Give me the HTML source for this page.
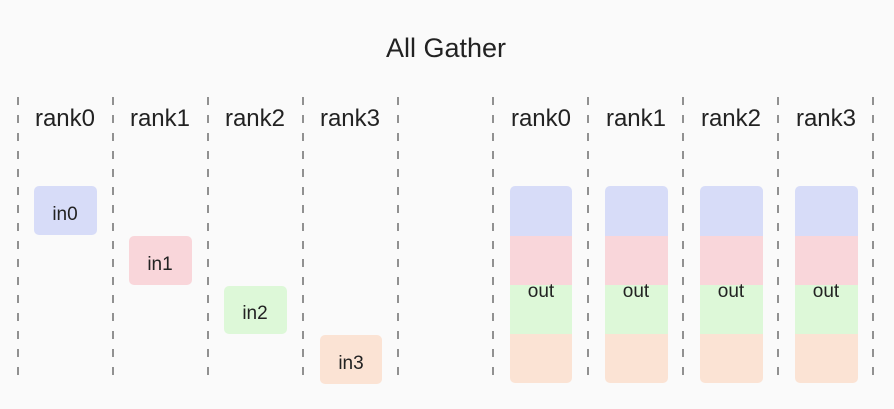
<!DOCTYPE html>
<html><head><meta charset="utf-8"><style>
html,body{margin:0;padding:0;background:#fafafa;}
svg{display:block;}
text{font-family:"Liberation Sans",sans-serif;fill:#222;}
</style></head><body>
<svg width="894" height="409" viewBox="0 0 894 409" xmlns="http://www.w3.org/2000/svg">
<rect width="894" height="409" fill="#fafafa"/>
<text x="446" y="57" font-size="27" text-anchor="middle">All Gather</text>
<g stroke="#777" stroke-width="1.6" stroke-dasharray="8 10">
<line x1="18" y1="97" x2="18" y2="383"/>
<line x1="113" y1="97" x2="113" y2="383"/>
<line x1="208" y1="97" x2="208" y2="383"/>
<line x1="303" y1="97" x2="303" y2="383"/>
<line x1="398" y1="97" x2="398" y2="383"/>
<line x1="493" y1="97" x2="493" y2="383"/>
<line x1="588" y1="97" x2="588" y2="383"/>
<line x1="683" y1="97" x2="683" y2="383"/>
<line x1="778" y1="97" x2="778" y2="383"/>
<line x1="873" y1="97" x2="873" y2="383"/>
</g>
<g font-size="24" text-anchor="middle">
<text x="65" y="126">rank0</text>
<text x="160" y="126">rank1</text>
<text x="255" y="126">rank2</text>
<text x="350" y="126">rank3</text>
<text x="541" y="126">rank0</text>
<text x="636" y="126">rank1</text>
<text x="731" y="126">rank2</text>
<text x="826" y="126">rank3</text>
</g>
<rect x="34" y="186" width="63" height="49" rx="5" fill="#d7dcf8"/>
<rect x="129" y="236" width="63" height="49" rx="5" fill="#f9d6da"/>
<rect x="224" y="286" width="63" height="48" rx="5" fill="#ddf8d8"/>
<rect x="320" y="335" width="62" height="49" rx="5" fill="#fbe3d4"/>
<g font-size="19" text-anchor="middle">
<text x="65" y="220">in0</text>
<text x="160" y="270">in1</text>
<text x="255" y="319">in2</text>
<text x="351" y="369">in3</text>
</g>
<defs>
<clipPath id="c0"><rect x="510" y="186" width="62" height="197" rx="5"/></clipPath>
<clipPath id="c1"><rect x="605" y="186" width="63" height="197" rx="5"/></clipPath>
<clipPath id="c2"><rect x="700" y="186" width="63" height="197" rx="5"/></clipPath>
<clipPath id="c3"><rect x="795" y="186" width="63" height="197" rx="5"/></clipPath>
</defs>
<g clip-path="url(#c0)">
<rect x="510" y="186" width="63" height="50" fill="#d7dcf8"/><rect x="510" y="236" width="63" height="49" fill="#f9d6da"/><rect x="510" y="285" width="63" height="49" fill="#ddf8d8"/><rect x="510" y="334" width="63" height="49" fill="#fbe3d4"/>
</g>
<g clip-path="url(#c1)">
<rect x="605" y="186" width="63" height="50" fill="#d7dcf8"/><rect x="605" y="236" width="63" height="49" fill="#f9d6da"/><rect x="605" y="285" width="63" height="49" fill="#ddf8d8"/><rect x="605" y="334" width="63" height="49" fill="#fbe3d4"/>
</g>
<g clip-path="url(#c2)">
<rect x="700" y="186" width="63" height="50" fill="#d7dcf8"/><rect x="700" y="236" width="63" height="49" fill="#f9d6da"/><rect x="700" y="285" width="63" height="49" fill="#ddf8d8"/><rect x="700" y="334" width="63" height="49" fill="#fbe3d4"/>
</g>
<g clip-path="url(#c3)">
<rect x="795" y="186" width="63" height="50" fill="#d7dcf8"/><rect x="795" y="236" width="63" height="49" fill="#f9d6da"/><rect x="795" y="285" width="63" height="49" fill="#ddf8d8"/><rect x="795" y="334" width="63" height="49" fill="#fbe3d4"/>
</g>
<g font-size="19" text-anchor="middle">
<text x="541" y="297">out</text>
<text x="636" y="297">out</text>
<text x="731" y="297">out</text>
<text x="826" y="297">out</text>
</g>
</svg>
</body></html>
